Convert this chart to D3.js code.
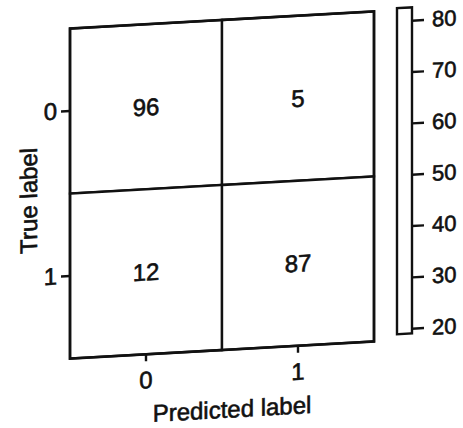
<!DOCTYPE html>
<html>
<head>
<meta charset="utf-8">
<script src="https://cdn.jsdelivr.net/npm/d3@7"></script>
<style>
  html, body { margin: 0; padding: 0; background: #ffffff; }
  svg { display: block; }
  text { font-family: "Liberation Sans", Arial, "DejaVu Sans", sans-serif; fill: #111; stroke: #111; stroke-width: 0.6px; }
</style>
</head>
<body>
<svg id="chart" width="463" height="428"></svg>
<script>
// ---- data ----
const predictedLabels = ["0", "1"];
const trueLabels = ["0", "1"];
const row0 = [96, 5];
const row1 = [12, 87];
const colorbarTicks = [20, 30, 40, 50, 60, 70, 80];
const colorbarDomain = [19, 82.5];

const cells = [];
[row0, row1].forEach((row, i) => row.forEach((v, j) => cells.push({ t: trueLabels[i], p: predictedLabels[j], v })));

// ---- layout ----
const W = 463, H = 428;
const box = { left: 70, right: 374, top: 20, bottom: 350 };
const cb = { left: 397, right: 412, top: 18, bottom: 344 };

const svg = d3.select("#chart");
svg.append("rect").attr("width", W).attr("height", H).attr("fill", "#ffffff");

// the photographed page is slightly skewed
const g = svg.append("g")
  .attr("transform", "translate(222,183) matrix(1,-0.056,0,1,0,0) translate(-222,-183)");

const x = d3.scaleBand().domain(predictedLabels).range([box.left, box.right]);
const y = d3.scaleBand().domain(trueLabels).range([box.top, box.bottom]);
const color = d3.scaleLinear().domain(colorbarDomain).range(["#ffffff", "#ffffff"]);

// cells
g.selectAll("rect.cell").data(cells).join("rect")
  .attr("class", "cell")
  .attr("x", d => x(d.p)).attr("y", d => y(d.t))
  .attr("width", x.bandwidth()).attr("height", y.bandwidth())
  .attr("fill", d => color(Math.min(Math.max(d.v, colorbarDomain[0]), colorbarDomain[1])))
  .attr("stroke", "#111").attr("stroke-width", 2.4);

g.selectAll("text.val").data(cells).join("text")
  .attr("class", "val")
  .attr("x", d => x(d.p) + x.bandwidth() / 2)
  .attr("y", d => y(d.t) + y.bandwidth() / 2)
  .attr("dy", "0.36em")
  .attr("text-anchor", "middle")
  .attr("font-size", 24)
  .text(d => d.v);

// outer frame
g.append("rect")
  .attr("x", box.left).attr("y", box.top)
  .attr("width", box.right - box.left).attr("height", box.bottom - box.top)
  .attr("fill", "none").attr("stroke", "#111").attr("stroke-width", 2.6);

// axes
const xAxis = d3.axisBottom(x).tickSize(7).tickPadding(10);
const yAxis = d3.axisLeft(y).tickSize(9).tickPadding(4);

const gx = g.append("g").attr("transform", `translate(0,${box.bottom})`).call(xAxis);
const gy = g.append("g").attr("transform", `translate(${box.left},0)`).call(yAxis);
[gx, gy].forEach(a => {
  a.select(".domain").remove();
  a.selectAll(".tick line").attr("stroke", "#111").attr("stroke-width", 2.4);
  a.selectAll(".tick text").attr("font-size", 24).attr("fill", "#111")
    .attr("font-family", '"Liberation Sans", Arial, sans-serif');
});

// axis titles
g.append("text")
  .attr("x", 232).attr("y", 418)
  .attr("text-anchor", "middle").attr("font-size", 24)
  .text("Predicted label");
g.append("text")
  .attr("transform", "translate(37,190) rotate(-90)")
  .attr("text-anchor", "middle").attr("font-size", 24)
  .text("True label");

// colorbar
const cbScale = d3.scaleLinear().domain(colorbarDomain).range([cb.bottom, cb.top]);
const steps = d3.range(colorbarDomain[0], colorbarDomain[1], 0.5);
g.selectAll("rect.cbstep").data(steps).join("rect")
  .attr("class", "cbstep")
  .attr("x", cb.left).attr("width", cb.right - cb.left)
  .attr("y", d => cbScale(Math.min(d + 0.5, colorbarDomain[1])))
  .attr("height", d => cbScale(d) - cbScale(Math.min(d + 0.5, colorbarDomain[1])) + 0.5)
  .attr("fill", d => color(d));
g.append("rect")
  .attr("x", cb.left).attr("y", cb.top)
  .attr("width", cb.right - cb.left).attr("height", cb.bottom - cb.top)
  .attr("fill", "none").attr("stroke", "#111").attr("stroke-width", 2.4);

const cbAxis = d3.axisRight(cbScale).tickValues(colorbarTicks).tickSize(12).tickPadding(8);
const gc = g.append("g").attr("transform", `translate(${cb.right},0)`).call(cbAxis);
gc.select(".domain").remove();
gc.selectAll(".tick line").attr("stroke", "#111").attr("stroke-width", 2.4);
gc.selectAll(".tick text").attr("font-size", 22).attr("fill", "#111")
  .attr("font-family", '"Liberation Sans", Arial, sans-serif');
</script>
</body>
</html>
